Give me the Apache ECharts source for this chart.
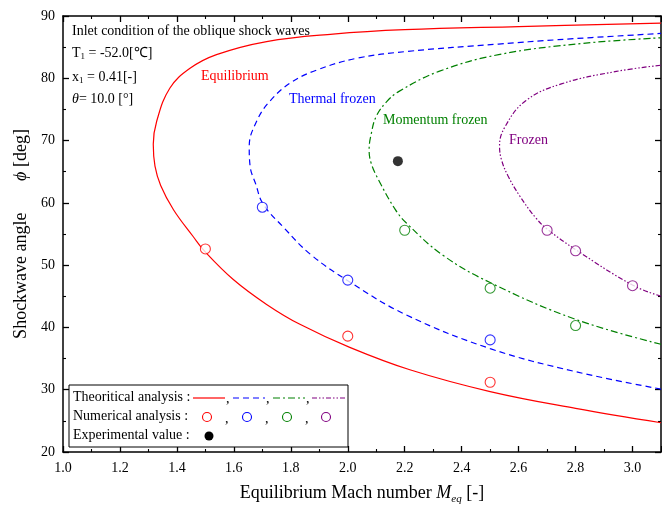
<!DOCTYPE html>
<html>
<head>
    <meta charset="utf-8">
    <script src="https://cdn.jsdelivr.net/npm/echarts@6/dist/echarts.min.js"></script>
    <style>
        html, body { margin: 0; padding: 0; background: #fff; }
    </style>
</head>
<body>
<div id="main" style="width: 662px;height:510px;"></div>
<script type="text/javascript">
    // theoretical curves: [M_eq, phi], lower branch -> nose -> upper branch
    var equilibrium = [[3.1, 24.7], [2.8, 27.0], [2.5, 29.7], [2.218, 33.2], [2.007, 36.8], [1.832, 40.5],
        [1.715, 43.7], [1.598, 47.7], [1.498, 52.2], [1.457, 54.6], [1.388, 58.9], [1.343, 62.8], [1.323, 65.9],
        [1.317, 69.4], [1.329, 73.1], [1.375, 78.4], [1.446, 81.6], [1.539, 83.8], [1.715, 85.9], [1.948, 87.1],
        [2.2, 87.8], [2.6, 88.3], [3.1, 88.85]];
    var thermalFrozen = [[3.1, 30.1], [2.8, 32.9], [2.5, 36.6], [2.206, 42.0], [2.007, 47.3],
        [1.87, 51.7], [1.776, 56.0], [1.703, 59.8], [1.677, 63.0], [1.657, 65.9], [1.654, 69.1], [1.68, 73.1],
        [1.726, 76.3], [1.80, 79.3], [1.89, 81.3], [2.03, 83.2], [2.206, 84.3], [2.53, 85.5], [2.74, 86.2], [3.1, 87.2]];
    var momentumFrozen = [[3.1, 37.3], [2.8, 41.3], [2.5, 47.2], [2.334, 51.6], [2.205, 56.8], [2.166, 59.0],
        [2.108, 63.7], [2.082, 66.4], [2.075, 68.5], [2.083, 71.2], [2.10, 73.9], [2.136, 76.2], [2.18, 77.9],
        [2.32, 81.1], [2.53, 83.8], [2.826, 85.6], [3.1, 86.5]];
    var frozen = [[3.1, 45.0], [3.0, 46.8], [2.8, 52.5], [2.7, 55.8], [2.66, 57.6], [2.604, 61.1], [2.563, 64.3],
        [2.54, 66.9], [2.533, 69.1], [2.552, 72.2], [2.625, 76.4], [2.75, 79.1], [2.943, 81.1], [3.1, 82.1]];

    // numerical analysis
    var numEquilibrium = [[1.5, 52.6], [2.0, 38.6], [2.5, 31.2]];
    var numThermal = [[1.7, 59.3], [2.0, 47.6], [2.5, 38.0]];
    var numMomentum = [[2.2, 55.6], [2.5, 46.3], [2.8, 40.3]];
    var numFrozen = [[2.7, 55.6], [2.8, 52.3], [3.0, 46.7]];

    // experiment
    var experimental = [[2.176, 66.7]];

    var RED = '#ff0000', BLUE = '#0000ff', GREEN = '#008000', PURPLE = '#800080';
    var FONT = 'Liberation Serif';

    var myChart = echarts.init(document.getElementById('main'));

    function curve(data, color, dash) {
        return {
            type: 'line', data: data, smooth: 0.4, symbol: 'none', silent: true,
            lineStyle: {color: color, width: 1.2, type: dash},
            clip: true, z: 3
        };
    }
    function circles(data, color) {
        return {
            type: 'scatter', data: data, symbol: 'circle', symbolSize: 10,
            itemStyle: {color: '#fff', borderColor: color, borderWidth: 1.1}, z: 4
        };
    }

    var axisCommon = {
        axisLine: {lineStyle: {color: '#000', width: 1.5}},
        axisTick: {inside: true, length: 6, lineStyle: {color: '#000', width: 1.3}},
        minorTick: {show: true, splitNumber: 2, length: 3, lineStyle: {color: '#000', width: 1.1}},
        splitLine: {show: false}
    };

    function txt(x, y, text, color, size) {
        return {type: 'text', left: x, top: y, z: 10,
            style: {text: text, fill: color || '#000', font: (size || 14) + 'px "' + FONT + '"'}};
    }

    var ly0 = 398;
    var option = {
        animation: false,
        grid: {left: 63, right: 1, top: 16, bottom: 57},
        xAxis: [
            Object.assign({
                type: 'value', min: 1.0, max: 3.1, interval: 0.2, position: 'bottom',
                name: '{n|Equilibrium Mach number }{m|M}{s|eq}{n| [-]}',
                nameLocation: 'middle', nameGap: 30,
                nameTextStyle: {rich: {
                    n: {fontFamily: FONT, fontSize: 18, color: '#000'},
                    m: {fontFamily: FONT, fontSize: 18, fontStyle: 'italic', color: '#000'},
                    s: {fontFamily: FONT, fontSize: 11, fontStyle: 'italic', color: '#000', padding: [12, 0, 0, 0]}
                }},
                axisLabel: {fontFamily: FONT, fontSize: 14, color: '#000', margin: 9, showMaxLabel: false,
                    formatter: function (v) { return v.toFixed(1); }}
            }, axisCommon),
            Object.assign({
                type: 'value', min: 1.0, max: 3.1, interval: 0.2, position: 'top',
                axisLabel: {show: false}
            }, axisCommon)
        ],
        yAxis: [
            Object.assign({
                type: 'value', min: 20, max: 90, interval: 10, position: 'left',
                name: '{n|Shockwave angle       }{p|ϕ}{n| [deg]}',
                nameLocation: 'middle', nameGap: 33,
                nameTextStyle: {rich: {
                    n: {fontFamily: FONT, fontSize: 18, color: '#000'},
                    p: {fontFamily: FONT, fontSize: 18, fontStyle: 'italic', color: '#000'}
                }},
                axisLabel: {fontFamily: FONT, fontSize: 14, color: '#000', margin: 8}
            }, axisCommon),
            Object.assign({
                type: 'value', min: 20, max: 90, interval: 10, position: 'right',
                axisLabel: {show: false}
            }, axisCommon)
        ],
        graphic: [
            txt(72, 24, 'Inlet condition of the oblique shock waves', '#000', 14),
            {type: 'text', left: 72, top: 46, z: 10, style: {
                text: '{n|T}{s|1}{n| = -52.0[℃]}',
                rich: {n: {font: '14px "' + FONT + '"', fill: '#000'}, s: {font: '9px "' + FONT + '"', fill: '#000', padding: [8, 0, 0, 0]}}}},
            {type: 'text', left: 72, top: 70, z: 10, style: {
                text: '{n|x}{s|1}{n| = 0.41[-]}',
                rich: {n: {font: '14px "' + FONT + '"', fill: '#000'}, s: {font: '9px "' + FONT + '"', fill: '#000', padding: [8, 0, 0, 0]}}}},
            {type: 'text', left: 72, top: 92, z: 10, style: {
                text: '{i|θ}{n|= 10.0 [°]}',
                rich: {n: {font: '14px "' + FONT + '"', fill: '#000'}, i: {font: 'italic 14px "' + FONT + '"', fill: '#000'}}}},
            txt(201, 69, 'Equilibrium', RED, 14),
            txt(289, 92, 'Thermal frozen', BLUE, 14),
            txt(383, 113, 'Momentum frozen', GREEN, 14),
            txt(509, 133, 'Frozen', PURPLE, 14),
            // legend box
            {type: 'rect', shape: {x: 69, y: 385, width: 279, height: 62}, z: 9,
                style: {fill: '#fff', stroke: '#000', lineWidth: 1}},
            txt(73, 390, 'Theoritical analysis :', '#000', 14),
            txt(73, 409, 'Numerical analysis :', '#000', 14),
            txt(73, 428, 'Experimental value :', '#000', 14),
            {type: 'line', z: 10, shape: {x1: 193, y1: ly0, x2: 225, y2: ly0}, style: {stroke: RED, lineWidth: 1.2}},
            {type: 'line', z: 10, shape: {x1: 233, y1: ly0, x2: 265, y2: ly0}, style: {stroke: BLUE, lineWidth: 1.2, lineDash: [6, 4]}},
            {type: 'line', z: 10, shape: {x1: 273, y1: ly0, x2: 305, y2: ly0}, style: {stroke: GREEN, lineWidth: 1.2, lineDash: [7, 3, 2, 3]}},
            {type: 'line', z: 10, shape: {x1: 312, y1: ly0, x2: 345, y2: ly0}, style: {stroke: PURPLE, lineWidth: 1.2, lineDash: [5, 2, 1.5, 2, 1.5, 2]}},
            txt(226, 392, ',', '#000', 14), txt(266, 392, ',', '#000', 14), txt(306, 392, ',', '#000', 14),
            {type: 'circle', z: 10, shape: {cx: 207, cy: 417, r: 4.5}, style: {fill: '#fff', stroke: RED, lineWidth: 1.1}},
            {type: 'circle', z: 10, shape: {cx: 247, cy: 417, r: 4.5}, style: {fill: '#fff', stroke: BLUE, lineWidth: 1.1}},
            {type: 'circle', z: 10, shape: {cx: 287, cy: 417, r: 4.5}, style: {fill: '#fff', stroke: GREEN, lineWidth: 1.1}},
            {type: 'circle', z: 10, shape: {cx: 326, cy: 417, r: 4.5}, style: {fill: '#fff', stroke: PURPLE, lineWidth: 1.1}},
            txt(225, 412, ',', '#000', 14), txt(265, 412, ',', '#000', 14), txt(305, 412, ',', '#000', 14),
            {type: 'circle', z: 10, shape: {cx: 209, cy: 436, r: 4.5}, style: {fill: '#000'}}
        ],
        series: [
            curve(equilibrium, RED, 'solid'),
            curve(thermalFrozen, BLUE, [6, 4]),
            curve(momentumFrozen, GREEN, [7, 3, 2, 3]),
            curve(frozen, PURPLE, [5, 2, 1.5, 2, 1.5, 2]),
            circles(numEquilibrium, RED),
            circles(numThermal, BLUE),
            circles(numMomentum, GREEN),
            circles(numFrozen, PURPLE),
            {type: 'scatter', data: experimental, symbol: 'circle', symbolSize: 10,
                itemStyle: {color: '#000'}, z: 4}
        ]
    };

    myChart.setOption(option);
</script>
</body>
</html>
